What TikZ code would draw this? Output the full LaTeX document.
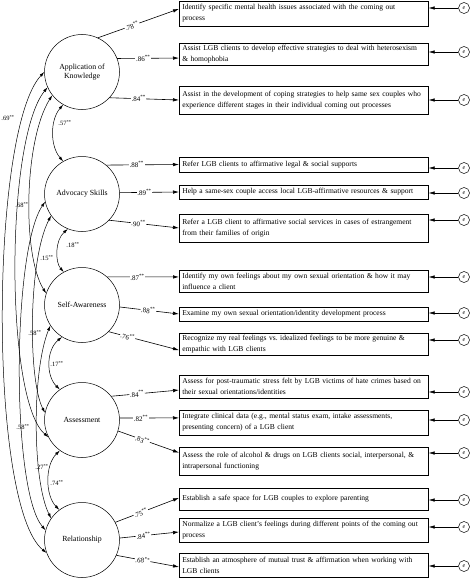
\documentclass[tikz,border=0pt]{standalone}
\usepackage{fontspec}
\setmainfont{Liberation Serif}
\usetikzlibrary{arrows.meta,calc}
\newcommand{\bl}[1]{\mbox{#1}}
\newcommand{\sgs}{\textsuperscript{**}}
\begin{document}
\begin{tikzpicture}[x=1pt,y=-1pt,
  lat/.style={circle, draw, line width=0.5pt, minimum size=75pt, inner sep=0pt, align=center, font=\fontsize{7.8}{9.5}\selectfont},
  ind/.style={draw, line width=0.6pt, anchor=west, text width=243pt, inner xsep=3pt, inner ysep=2pt, align=left, font=\fontsize{7.55}{11}\selectfont},
  err/.style={circle, draw, line width=0.5pt, minimum size=11pt, inner sep=0pt, font=\fontsize{6}{6}\selectfont\itshape},
  load/.style={-{Latex[length=6pt,width=3.5pt]}, line width=0.6pt},
  eline/.style={-{Latex[length=6pt,width=3.5pt]}, line width=0.6pt},
  corr/.style={{Latex[length=5pt,width=3pt]}-{Latex[length=5pt,width=3pt]}, line width=0.5pt},
  lw/.style={fill=white, inner sep=0.6pt, font=\fontsize{7}{7}\selectfont, pos=0.42},
  cl/.style={inner sep=0pt, font=\fontsize{6.5}{6.5}\selectfont},
]
\useasboundingbox (0,0) rectangle (474,578);

% latent factors
\node[lat] (app) at (82,72) {Application of\\Knowledge};
\node[lat] (adv) at (82,194) {Advocacy Skills};
\node[lat] (self) at (82,305) {Self-Awareness};
\node[lat] (ass) at (82,420) {Assessment};
\node[lat] (rel) at (82,540) {Relationship};

% indicators
\node[ind, minimum height=25pt] (b1) at (179,13.5) {\bl{Identify specific mental health issues associated with the coming out}\\\bl{process}};
\node[ind, minimum height=22pt] (b2) at (179,54) {\bl{Assist LGB clients to develop effective strategies to deal with heterosexism}\\\bl{\& homophobia}};
\node[ind, minimum height=28pt] (b3) at (179,100) {\bl{Assist in the development of coping strategies to help same sex couples who}\\\bl{experience different stages in their individual coming out processes}};
\node[ind, minimum height=15pt] (b4) at (179,164.5) {\bl{Refer LGB clients to affirmative legal \& social supports}};
\node[ind, minimum height=14pt] (b5) at (179,192) {\bl{Help a same-sex couple access local LGB-affirmative resources \& support}};
\node[ind, minimum height=28pt] (b6) at (179,228) {\bl{Refer a LGB client to affirmative social services in cases of estrangement}\\\bl{from their families of origin}};
\node[ind, minimum height=22pt] (b7) at (179,281) {\bl{Identify my own feelings about my own sexual orientation \& how it may}\\\bl{influence a client}};
\node[ind, minimum height=14pt] (b8) at (179,314) {\bl{Examine my own sexual orientation/identity development process}};
\node[ind, minimum height=22pt] (b9) at (179,344) {\bl{Recognize my real feelings vs.\ idealized feelings to be more genuine \&}\\\bl{empathic with LGB clients}};
\node[ind, minimum height=23pt] (b10) at (179,386.5) {\bl{Assess for post-traumatic stress felt by LGB victims of hate crimes based on}\\\bl{their sexual orientations/identities}};
\node[ind, minimum height=25pt] (b11) at (179,422.5) {\bl{Integrate clinical data (e.g., mental status exam, intake assessments,}\\\bl{presenting concern) of a LGB client}};
\node[ind, minimum height=28pt] (b12) at (179,461) {\bl{Assess the role of alcohol \& drugs on LGB clients social, interpersonal, \&}\\\bl{intrapersonal functioning}};
\node[ind, minimum height=22pt] (b13) at (179,499) {\bl{Establish a safe space for LGB couples to explore parenting}};
\node[ind, minimum height=24pt] (b14) at (179,530) {\bl{Normalize a LGB client’s feelings during different points of the coming out}\\\bl{process}};
\node[ind, minimum height=24pt] (b15) at (179,565) {\bl{Establish an atmosphere of mutual trust \& affirmation when working with}\\\bl{LGB clients}};

% error terms
\foreach \i/\y in {1/8,2/52,3/100,4/168,5/193,6/220,7/277,8/313,9/340,10/392,11/420,12/453,13/500,14/527,15/566}{
  \node[err] (e\i) at (464,\y) {e};
  \draw[eline] (e\i) -- (e\i -| b\i.east);
}

% loadings
\draw[load] (app.65) -- node[lw,rotate=19]{.78\sgs} ($(b1.north west)!0.32!(b1.south west)$);
\draw[load] (app.21) -- node[lw]{.86\sgs} ($(b2.north west)!0.68!(b2.south west)$);
\draw[load] (app.-43) -- node[lw]{.84\sgs} (b3.west);
\draw[load] (adv.50) -- node[lw]{.88\sgs} (b4.west);
\draw[load] (adv.2) -- node[lw]{.89\sgs} (b5.west);
\draw[load] (adv.-44) -- node[lw,rotate=-5]{.90\sgs} (b6.west);
\draw[load] (self.48) -- node[lw]{.87\sgs} ($(b7.north west)!0.32!(b7.south west)$);
\draw[load] (self.-3) -- node[lw,pos=0.48,rotate=-5]{.88\sgs} (b8.west);
\draw[load] (self.-45) -- node[lw,pos=0.27,rotate=-14]{.76\sgs} ($(b9.north west)!0.77!(b9.south west)$);
\draw[load] (ass.39) -- node[lw,pos=0.38,rotate=5]{.84\sgs} ($(b10.north west)!0.65!(b10.south west)$);
\draw[load] (ass.3) -- node[lw,pos=0.36]{.82\sgs} ($(b11.north west)!0.32!(b11.south west)$);
\draw[load] (ass.-17) -- node[lw,pos=0.4,rotate=-19]{.83\sgs} ($(b12.north west)!0.21!(b12.south west)$);
\draw[load] (rel.28) -- node[lw,pos=0.4,rotate=21]{.75\sgs} ($(b13.north west)!0.45!(b13.south west)$);
\draw[load] (rel.3) -- node[lw,pos=0.4,rotate=5]{.84\sgs} ($(b14.north west)!0.58!(b14.south west)$);
\draw[load] (rel.-24) -- node[lw,pos=0.42,rotate=-10]{.68\sgs} ($(b15.north west)!0.58!(b15.south west)$);

% correlations between adjacent factors
\draw[corr] (app.240) .. controls (50,120) and (50,146) .. (adv.120);
\draw[corr] (adv.248) .. controls (55,240) and (55,262) .. (self.119);
\draw[corr] (self.238) .. controls (46,350) and (46,376) .. (ass.126);
\draw[corr] (ass.234) .. controls (45,465) and (45,495) .. (rel.127);
% long correlations
\draw[corr] (app.180) .. controls (-10,130) and (-12,505) .. (rel.200);
\draw[corr] (app.204) .. controls (5,140) and (5,400) .. (ass.207);
\draw[corr] (app.218) .. controls (24,140) and (22,255) .. (self.162);
\draw[corr] (adv.192) .. controls (12,250) and (11,490) .. (rel.165);
\draw[corr] (adv.215) .. controls (28,260) and (28,380) .. (ass.169);
\draw[corr] (self.213) .. controls (32,370) and (32,480) .. (rel.145);

% correlation labels
\node[cl] (c1) at (8,118) {.69\sgs};
\node[cl] (c2) at (22,205) {.68\sgs};
\node[cl] (c3) at (65,123) {.57\sgs};
\node[cl] (c4) at (73,245) {.18\sgs};
\node[cl] (c5) at (47,258) {.15\sgs};
\node[cl] (c6) at (35,333) {.58\sgs};
\node[cl] (c7) at (57,364) {.17\sgs};
\node[cl] (c8) at (23,427) {.58\sgs};
\node[cl] (c9) at (42,467) {.27\sgs};
\node[cl] (c10) at (57,483) {.74\sgs};
\end{tikzpicture}
\end{document}
